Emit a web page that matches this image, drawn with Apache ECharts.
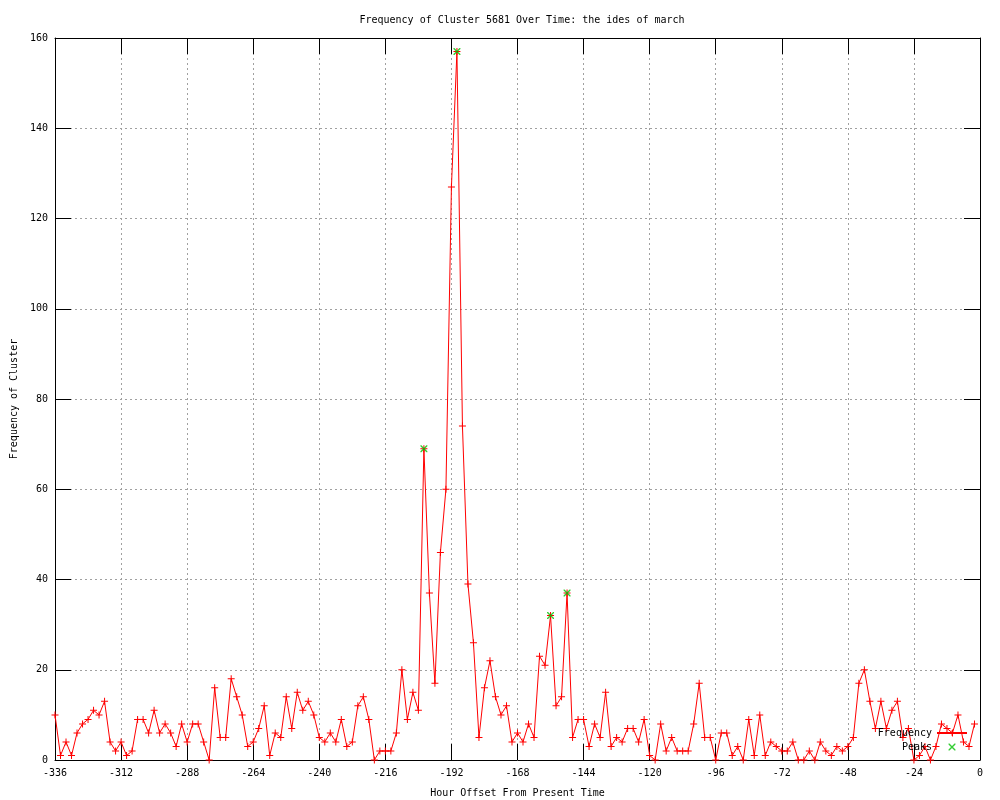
<!DOCTYPE html>
<html>
<head>
<meta charset="utf-8">
<script src="https://cdn.jsdelivr.net/npm/echarts@6/dist/echarts.min.js"></script>
<style>
html,body{margin:0;padding:0;background:#fff;}
#chart{width:1000px;height:800px;}
</style>
</head>
<body>
<div id="chart"></div>
<script>
var titleText = 'Frequency of Cluster 5681 Over Time: the ides of march';
var xAxisName = 'Hour Offset From Present Time';
var yAxisName = 'Frequency of Cluster';

var hours = [
-336,-334,-332,-330,-328,-326,-324,-322,-320,-318,-316,-314,-312,-310,-308,-306,-304,-302,-300,-298,
-296,-294,-292,-290,-288,-286,-284,-282,-280,-278,-276,-274,-272,-270,-268,-266,-264,-262,-260,-258,
-256,-254,-252,-250,-248,-246,-244,-242,-240,-238,-236,-234,-232,-230,-228,-226,-224,-222,-220,-218,
-216,-214,-212,-210,-208,-206,-204,-202,-200,-198,-196,-194,-192,-190,-188,-186,-184,-182,-180,-178,
-176,-174,-172,-170,-168,-166,-164,-162,-160,-158,-156,-154,-152,-150,-148,-146,-144,-142,-140,-138,
-136,-134,-132,-130,-128,-126,-124,-122,-120,-118,-116,-114,-112,-110,-108,-106,-104,-102,-100,-98,
-96,-94,-92,-90,-88,-86,-84,-82,-80,-78,-76,-74,-72,-70,-68,-66,-64,-62,-60,-58,
-56,-54,-52,-50,-48,-46,-44,-42,-40,-38,-36,-34,-32,-30,-28,-26,-24,-22,-20,-18,
-16,-14,-12,-10,-8,-6,-4,-2
];
var frequency = [
10,1,4,1,6,8,9,11,10,13,4,2,4,1,2,9,9,6,11,6,
8,6,3,8,4,8,8,4,0,16,5,5,18,14,10,3,4,7,12,1,
6,5,14,7,15,11,13,10,5,4,6,4,9,3,4,12,14,9,0,2,
2,2,6,20,9,15,11,69,37,17,46,60,127,157,74,39,26,5,16,22,
14,10,12,4,6,4,8,5,23,21,32,12,14,37,5,9,9,3,8,5,
15,3,5,4,7,7,4,9,1,0,8,2,5,2,2,2,8,17,5,5,
0,6,6,1,3,0,9,1,10,1,4,3,2,2,4,0,0,2,0,4,
2,1,3,2,3,5,17,20,13,7,13,7,11,13,5,7,0,1,3,0,
3,8,7,6,10,4,3,8
];
var peakHours = [-202, -190, -156, -150];
var peakValues = [69, 157, 32, 37];

var xTickMin = -336, xTickMax = 0, xTickStep = 24;
var yTickMin = 0, yTickMax = 160, yTickStep = 20;

function pairs(xs, ys){ var o=[]; for(var i=0;i<xs.length;i++){ o.push([xs[i], ys[i]]); } return o; }

var FONT = 'DejaVu Sans Mono';
var plusPath = 'path://M0,3h7v1h-7z M3,0h1v7h-1z';
var xPath = 'path://M0,0L1,0L7,6L7,7L6,7L0,1Z M6,0L7,0L7,1L1,7L0,7L0,6Z';

var chart = echarts.init(document.getElementById('chart'), null, {renderer:'canvas'});
var lineBlack = {color:'#000', width:1};
var gridLine = {show:true, lineStyle:{color:'#a0a0a0', width:1, type:[2,3]}};
chart.setOption({
  animation:false,
  backgroundColor:'#fff',
  title:{text:titleText, left:517, top:10, textAlign:'center',
    textStyle:{fontFamily:FONT, fontSize:10, fontWeight:'normal', color:'#000'}},
  legend:{
    data:['Frequency','Peaks'], orient:'vertical', right:32, top:728, align:'right',
    itemWidth:30, itemHeight:7, itemGap:4, padding:0,
    textStyle:{fontFamily:FONT, fontSize:10, color:'#000', lineHeight:9}
  },
  grid:{left:55, right:20, top:38, bottom:40, containLabel:false, outerBoundsMode:'none'},
  xAxis:[{
    type:'value', min:xTickMin, max:xTickMax, interval:xTickStep, position:'bottom',
    name:xAxisName, nameLocation:'middle', nameGap:28,
    nameTextStyle:{fontFamily:FONT, fontSize:10, color:'#000'},
    axisLine:{show:true, onZero:false, lineStyle:lineBlack},
    axisTick:{show:true, inside:true, length:16, lineStyle:lineBlack},
    axisLabel:{color:'#000', fontFamily:FONT, fontSize:10, margin:8, showMinLabel:true, showMaxLabel:true},
    splitLine:gridLine
  },{
    type:'value', min:xTickMin, max:xTickMax, interval:xTickStep, position:'top',
    axisLine:{show:true, onZero:false, lineStyle:lineBlack},
    axisTick:{show:true, inside:true, length:16, lineStyle:lineBlack},
    axisLabel:{show:false}, splitLine:{show:false}
  }],
  yAxis:[{
    type:'value', min:yTickMin, max:yTickMax, interval:yTickStep, position:'left',
    name:yAxisName, nameLocation:'middle', nameGap:36, nameRotate:90,
    nameTextStyle:{fontFamily:FONT, fontSize:10, color:'#000'},
    axisLine:{show:true, onZero:false, lineStyle:lineBlack},
    axisTick:{show:true, inside:true, length:16, lineStyle:lineBlack},
    axisLabel:{color:'#000', fontFamily:FONT, fontSize:10, margin:7, showMinLabel:true, showMaxLabel:true},
    splitLine:gridLine
  },{
    type:'value', min:yTickMin, max:yTickMax, interval:yTickStep, position:'right',
    axisLine:{show:true, onZero:false, lineStyle:lineBlack},
    axisTick:{show:true, inside:true, length:16, lineStyle:lineBlack},
    axisLabel:{show:false}, splitLine:{show:false}
  }],
  series:[{
    name:'Frequency', type:'line', xAxisIndex:0, yAxisIndex:0,
    data:pairs(hours, frequency),
    symbol:plusPath, symbolSize:7, showSymbol:true,
    itemStyle:{color:'#ff0000'},
    lineStyle:{color:'#ff0000', width:1},
    z:3
  },{
    name:'Peaks', type:'scatter', xAxisIndex:0, yAxisIndex:0,
    data:pairs(peakHours, peakValues),
    symbol:xPath, symbolSize:7,
    itemStyle:{color:'#00c000'},
    z:4
  }]
});
</script>
</body>
</html>
